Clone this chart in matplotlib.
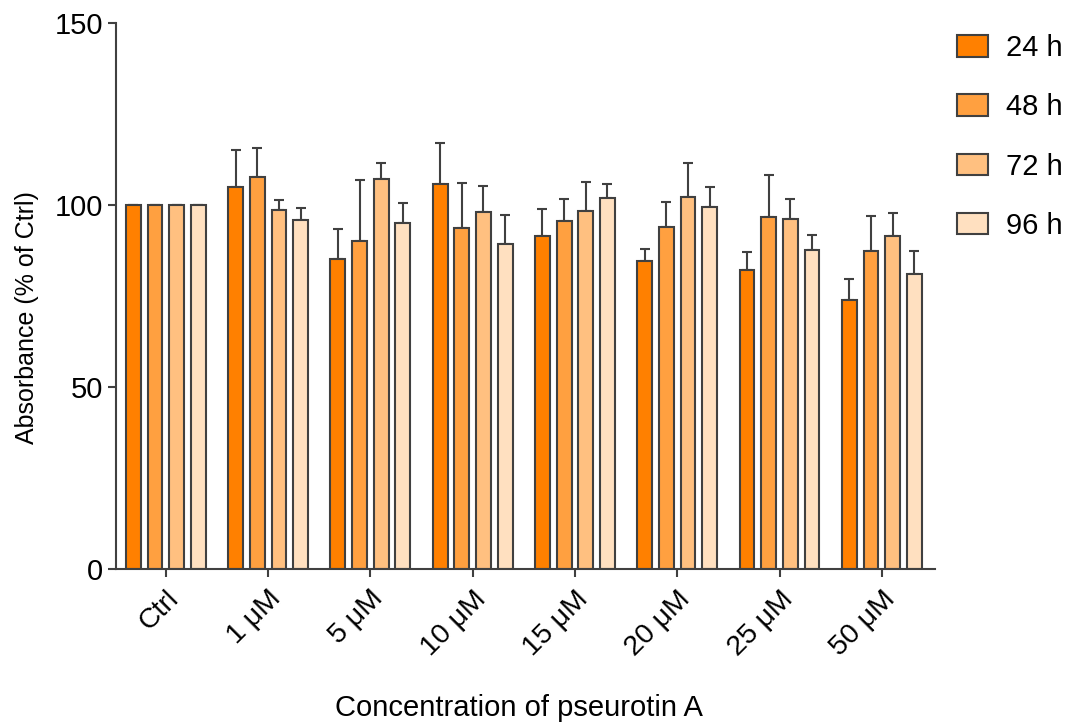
import matplotlib
matplotlib.use("Agg")
import matplotlib.pyplot as plt
import numpy as np

plt.rcParams['font.family'] = ['Liberation Sans', 'DejaVu Sans']

categories = ["Ctrl", "1 \u03bcM", "5 \u03bcM", "10 \u03bcM", "15 \u03bcM", "20 \u03bcM", "25 \u03bcM", "50 \u03bcM"]
series_labels = ["24 h", "48 h", "72 h", "96 h"]
values_24h = [100, 105.0, 85.2, 105.7, 91.6, 84.8, 82.3, 73.9]
values_48h = [100, 107.8, 90.2, 93.8, 95.8, 93.9, 96.7, 87.5]
values_72h = [100, 98.6, 107.3, 98.2, 98.4, 102.2, 96.3, 91.5]
values_96h = [100, 95.9, 95.0, 89.3, 101.9, 99.5, 87.8, 81.0]
err_24h = [0, 10.2, 8.2, 11.3, 7.3, 3.1, 4.9, 5.8]
err_48h = [0, 7.9, 16.6, 12.2, 5.9, 6.9, 11.5, 9.6]
err_72h = [0, 2.8, 4.3, 7.0, 8.0, 9.3, 5.4, 6.3]
err_96h = [0, 3.4, 5.5, 8.0, 3.8, 5.4, 4.0, 6.4]
colors = ["#FF8000", "#FFA040", "#FFC080", "#FFE0C0"]

series = [values_24h, values_48h, values_72h, values_96h]
errs = [err_24h, err_48h, err_72h, err_96h]

fig = plt.figure(figsize=(10.71, 7.26), dpi=100)
ax = fig.add_axes([0.108, 0.216, 0.765, 0.752])

x = np.arange(len(categories))
w = 0.145
step = 0.212
for i, (vals, er, c, lab) in enumerate(zip(series, errs, colors, series_labels)):
    pos = x + (i - 1.5) * step
    ax.bar(pos, vals, width=w, color=c, edgecolor="#404040", linewidth=1.5, label=lab, zorder=2)
    ax.errorbar(pos, vals, yerr=[np.zeros(len(er)), er], fmt="none", ecolor="#404040",
                elinewidth=1.5, capsize=3.5, capthick=1.5, zorder=1)

ax.set_xlim(-0.49, 7.52)
ax.set_ylim(0, 150)
ax.set_yticks([0, 50, 100, 150])
ax.set_xticks(x)
ax.set_xticklabels(categories, rotation=45, ha="right", rotation_mode="anchor", fontsize=20.5)
ax.tick_params(axis="y", labelsize=21, direction="out", length=6, width=1.5, color="#404040", pad=3)
ax.tick_params(axis="x", direction="out", length=6, width=1.5, color="#404040", pad=6)
for s in ["top", "right"]:
    ax.spines[s].set_visible(False)
for s in ["left", "bottom"]:
    ax.spines[s].set_linewidth(1.5)
    ax.spines[s].set_color("#404040")

ax.set_ylabel("Absorbance (% of Ctrl)", fontsize=18)
ax.yaxis.set_label_coords(-0.093, 0.46)
fig.text(0.485, 0.025, "Concentration of pseurotin A", ha="center", va="center", fontsize=21)

leg = ax.legend(loc="upper left", bbox_to_anchor=(0.894, 0.953), bbox_transform=fig.transFigure,
                frameon=False, fontsize=21, labelspacing=1.07, handlelength=1.05, handleheight=0.75,
                handletextpad=0.6, borderpad=0, borderaxespad=0)

fig.savefig("out.png", dpi=100)
